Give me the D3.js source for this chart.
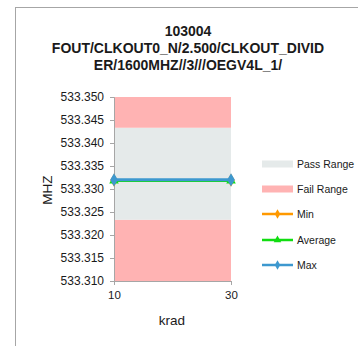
<!DOCTYPE html>
<html><head><meta charset="utf-8">
<script src="https://cdn.jsdelivr.net/npm/d3@7"></script>
<style>body{margin:0;background:#fff}svg{display:block}</style>
</head><body>
<script>
const titleLines = ["103004", "FOUT/CLKOUT0_N/2.500/CLKOUT_DIVID", "ER/1600MHZ//3///OEGV4L_1/"];
const categories = [10, 30];
const yTicks = [533.310, 533.315, 533.320, 533.325, 533.330, 533.335, 533.340, 533.345, 533.350];
const yDomain = [533.310, 533.350];
const failLow = 533.3233;
const failHigh = 533.3433;
const minVals = [533.3319, 533.3319];
const avgVals = [533.3318, 533.3318];
const maxVals = [533.3320, 533.3320];
const xLabel = "krad";
const yLabel = "MHZ";
const legendItems = ["Pass Range", "Fail Range", "Min", "Average", "Max"];

const W = 358, H = 346;
const svg = d3.select("body").append("svg").attr("width", W).attr("height", H);
const font = "'Liberation Sans', Arial, sans-serif";

svg.append("rect").attr("x", 15.5).attr("y", 7.5).attr("width", 500).attr("height", 500)
  .attr("fill", "none").attr("stroke", "#a6a6a6").attr("stroke-width", 1);

const x = d3.scalePoint().domain(categories).range([114, 231]);
const y = d3.scaleLinear().domain(yDomain).range([281, 97]);

// title
const tY = [36, 53, 70];
titleLines.forEach((t, i) => {
  svg.append("text").attr("x", 188).attr("y", tY[i]).attr("text-anchor", "middle")
    .attr("font-family", font).attr("font-weight", "bold").attr("font-size", 14)
    .attr("fill", "#1a1a1a").text(t);
});

// bands
const rows = categories.map((c, i) => ({c, i}));
const area = (lo, hi) => d3.area().x(d => x(d.c)).y0(() => y(lo)).y1(() => y(hi))(rows);
svg.append("path").attr("d", area(yDomain[0], failLow)).attr("fill", "#ffb3b3");
svg.append("path").attr("d", area(failLow, failHigh)).attr("fill", "#e5eaea");
svg.append("path").attr("d", area(failHigh, yDomain[1])).attr("fill", "#ffb3b3");

// y axis
const yAxis = svg.append("g").attr("transform", "translate(114,0)")
  .call(d3.axisLeft(y).tickValues(yTicks).tickFormat(d3.format(".3f")).tickSize(4).tickPadding(6));
yAxis.select(".domain").attr("stroke", "#a6a6a6");
yAxis.selectAll(".tick line").attr("stroke", "#a6a6a6");
yAxis.selectAll("text").attr("font-family", font).attr("font-size", 12).attr("fill", "#1a1a1a");

// x axis
const xAxis = svg.append("g").attr("transform", "translate(0,281)")
  .call(d3.axisBottom(x).tickSize(4).tickPadding(6));
xAxis.select(".domain").attr("stroke", "#a6a6a6");
xAxis.selectAll(".tick line").attr("stroke", "#a6a6a6");
xAxis.selectAll("text").attr("font-family", font).attr("font-size", 11.5).attr("fill", "#1a1a1a");

svg.append("text").attr("x", 172).attr("y", 325).attr("text-anchor", "middle")
  .attr("font-family", font).attr("font-size", 13.5).attr("fill", "#1a1a1a").text(xLabel);
svg.append("text").attr("transform", "translate(52,190) rotate(-90)").attr("text-anchor", "middle")
  .attr("font-family", font).attr("font-size", 13.5).attr("fill", "#1a1a1a").text(yLabel);

// series
const series = [
  {name: "Min", vals: minVals, color: "#ff9900", marker: "diamond", width: 2.5},
  {name: "Average", vals: avgVals, color: "#11dd11", marker: "triangle", width: 2.5},
  {name: "Max", vals: maxVals, color: "#3d98cf", marker: "diamond", width: 3}
];
const line = d3.line().x(d => x(d.c)).y(d => y(d.v));
const sym = m => d3.symbol().type(m === "triangle" ? d3.symbolTriangle : d3.symbolDiamond).size(m === "triangle" ? 40 : 50)();
series.forEach(s => {
  const pts = categories.map((c, i) => ({c, v: s.vals[i]}));
  svg.append("path").attr("d", line(pts)).attr("fill", "none").attr("stroke", s.color).attr("stroke-width", s.width);
  svg.selectAll(null).data(pts).enter().append("path")
    .attr("transform", d => `translate(${x(d.c)},${y(d.v)})`)
    .attr("d", sym(s.marker)).attr("fill", s.color);
});

// legend
const lx = 262, lw = 31, ty = [164, 189, 214, 240, 265];
legendItems.forEach((name, i) => {
  const yy = ty[i];
  if (i < 2) {
    svg.append("rect").attr("x", lx).attr("y", yy - 3.5).attr("width", lw).attr("height", 7)
      .attr("fill", i === 0 ? "#e5eaea" : "#ffb3b3");
  } else {
    const s = series[i - 2];
    svg.append("line").attr("x1", lx).attr("x2", lx + lw).attr("y1", yy).attr("y2", yy)
      .attr("stroke", s.color).attr("stroke-width", 2.5);
    svg.append("path").attr("transform", `translate(${lx + lw / 2},${yy})`)
      .attr("d", d3.symbol().type(s.marker === "triangle" ? d3.symbolTriangle : d3.symbolDiamond).size(25)())
      .attr("fill", s.color);
  }
  svg.append("text").attr("x", lx + lw + 4).attr("y", yy + 4)
    .attr("font-family", font).attr("font-size", 10.5).attr("fill", "#1a1a1a").text(name);
});
</script>
</body></html>
